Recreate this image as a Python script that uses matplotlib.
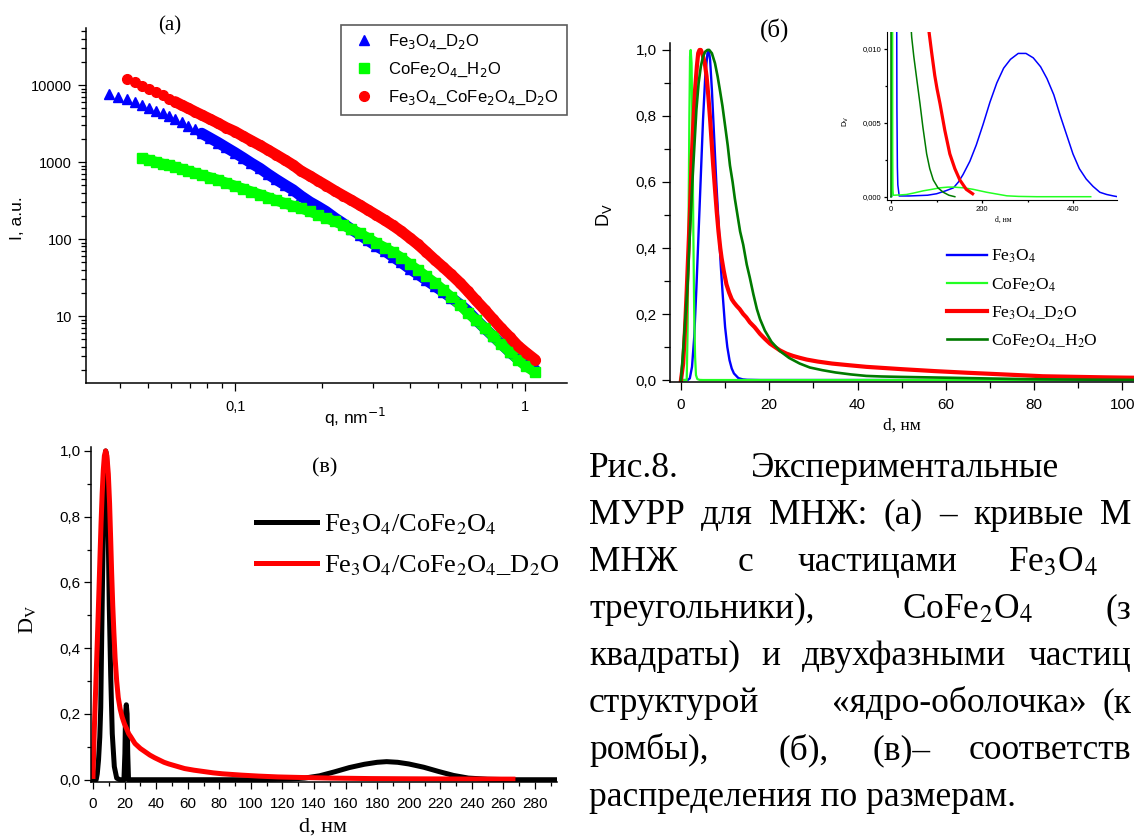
import matplotlib
matplotlib.use("Agg")
import matplotlib.pyplot as plt
import numpy as np
from matplotlib.ticker import FuncFormatter, MultipleLocator, LogLocator, NullFormatter

# ---------------- panel (a): SANS curves, I(q) ----------------
q_a = [0.0368, 0.0396, 0.0424, 0.0452, 0.0479, 0.0506, 0.0534, 0.0562, 0.0592, 0.0621,
       0.0655, 0.069, 0.0727, 0.0767, 0.082, 0.0874, 0.0931, 0.1, 0.1066, 0.1135,
       0.122, 0.13, 0.1384, 0.1487, 0.1585, 0.1689, 0.1814, 0.1932, 0.206, 0.2213,
       0.2357, 0.2512, 0.27, 0.2874, 0.3063, 0.329, 0.3506, 0.3736, 0.4012, 0.4276,
       0.4556, 0.4895, 0.5214, 0.5556, 0.5969, 0.636, 0.6777, 0.7278, 0.776, 0.8265,
       0.888, 0.946, 1.008, 1.083]
# Fe3O4_D2O starts at q_a[0]
I_fe3o4_d2o = [7570, 7050, 6520, 5960, 5450, 4980, 4590, 4290, 3960, 3620,
               3280, 2960, 2660, 2360, 2050, 1790, 1550, 1320, 1135, 973,
               826, 697, 596, 503, 435, 362, 302, 264, 228, 187,
               160, 135, 113, 96, 82, 70, 59, 50, 41, 35,
               29.5, 24.5, 20.8, 17.4, 14.2, 11.6, 9.0, 6.9, 5.5, 4.4,
               3.4, 2.77, 2.34, 2.02]
# CoFe2O4_H2O starts at q_a[4]
I_cofe2o4_h2o = [1117, 1055, 1000, 948, 908, 861, 811, 764, 719, 678,
                 629, 584, 537, 488, 450, 414, 378, 346, 318, 291,
                 268, 251, 228, 208, 188, 169, 152, 135, 118, 103,
                 89, 77, 67, 57.5, 46.7, 39.4, 32.9, 26.8, 22, 17.6,
                 14, 11, 8.9, 6.9, 5.5, 4.3, 3.4, 2.72, 2.24, 1.87]
# Fe3O4_CoFe2O4_D2O starts at q_a[2]
I_core_shell_d2o = [11900, 10850, 9800, 8800, 8040, 7350, 6640, 6070, 5470, 4980,
                    4500, 4080, 3600, 3190, 2800, 2480, 2160, 1900, 1640, 1430,
                    1245, 1060, 914, 764, 658, 570, 495, 420, 367, 321,
                    274, 238, 206, 175, 150, 127, 103, 85, 68.6, 53.4,
                    43.4, 34.9, 27, 20.9, 16, 12, 9.1, 7.0, 5.3, 4.1,
                    3.36, 2.72]
labels_a = ["Fe$_3$O$_4$_D$_2$O", "CoFe$_2$O$_4$_H$_2$O",
            "Fe$_3$O$_4$_CoFe$_2$O$_4$_D$_2$O"]
yticks_a = [10, 100, 1000, 10000]
xticks_a = [0.1, 1]
xticklabels_a = ["0,1", "1"]

# ---------------- panel (б): size distributions ----------------
d_fe3o4 = [0, 1.5, 2.0, 2.5, 3.0, 3.5, 4.0, 4.5, 5.0, 5.5, 6.0, 6.3, 6.6, 7.0, 7.5, 8.0,
           8.5, 9.0, 9.5, 10.0, 10.5, 11.0, 11.5, 12.0, 13.0, 14.0, 15.0, 18, 40, 80,
           100, 120, 137, 148, 158, 173, 187, 202, 217, 232, 247, 262, 279, 296, 312,
           328, 342, 357, 371, 385, 399, 413, 428, 443, 458, 473, 488, 497]
dv_fe3o4 = [0, 0, 0.005, 0.04, 0.13, 0.28, 0.45, 0.62, 0.79, 0.92, 0.99, 1.0, 0.97, 0.88,
            0.74, 0.6, 0.48, 0.35, 0.25, 0.16, 0.1, 0.06, 0.035, 0.02, 0.006, 0.002,
            0.0008, 0.00005, 0.00005, 0.0001, 0.0002, 0.0004, 0.0006, 0.001, 0.0015,
            0.0024, 0.0035, 0.0049, 0.0064, 0.0077, 0.0087, 0.0093, 0.0097, 0.0097,
            0.0094, 0.0088, 0.008, 0.0069, 0.0055, 0.0042, 0.0029, 0.0019, 0.0012,
            0.0007, 0.0003, 0.00015, 0.00005, 0.0]
d_cofe2o4 = [0, 1.3, 1.5, 1.7, 1.9, 2.05, 2.2, 2.4, 2.6, 2.8, 3.0, 3.2, 3.4, 3.7, 4.2,
             5.0, 20, 34, 50, 71, 90, 107, 125, 137, 160, 180, 195, 210, 232, 254,
             280, 320, 380, 438]
dv_cofe2o4 = [0, 0, 0.15, 0.45, 0.8, 0.98, 1.0, 0.96, 0.75, 0.45, 0.2, 0.07, 0.015,
              0.003, 0.0005, 0.0001, 0.00012, 0.00015, 0.00025, 0.0004, 0.0005,
              0.0006, 0.00065, 0.00065, 0.0006, 0.0005, 0.0004, 0.0003, 0.00018,
              0.00006, 0.00002, 0, 0, 0]
d_fe3o4_d2o = [0, 0.5, 0.9, 1.3, 1.7, 2.0, 2.4, 2.8, 3.2, 3.6, 3.9, 4.2, 4.5, 4.8, 5.1,
               5.4, 5.8, 6.2, 6.6, 6.9, 7.3, 7.7, 8.1, 8.5, 8.9, 9.2, 9.7, 10.3, 10.9,
               11.5, 12.0, 12.6, 13.3, 14.1, 14.8, 15.6, 16.7, 17.9, 19.0, 20.2, 21.3,
               22.4, 23.9, 25.4, 27.0, 28.5, 31.0, 34.2, 38, 42, 50, 57.6, 65, 73.2,
               82, 89, 96, 101, 107.5, 118, 129, 140, 151, 165, 179]
dv_fe3o4_d2o = [0, 0.05, 0.15, 0.27, 0.40, 0.5, 0.66, 0.78, 0.88, 0.95, 0.99, 1.0, 1.0,
                0.99, 0.975, 0.96, 0.92, 0.86, 0.79, 0.73, 0.65, 0.58, 0.51, 0.45,
                0.40, 0.37, 0.33, 0.29, 0.265, 0.245, 0.235, 0.225, 0.215, 0.20, 0.19,
                0.175, 0.16, 0.14, 0.125, 0.11, 0.1, 0.09, 0.08, 0.073, 0.067, 0.062,
                0.056, 0.05, 0.045, 0.04, 0.033, 0.027, 0.022, 0.017, 0.0115, 0.0098,
                0.0082, 0.0073, 0.0063, 0.0045, 0.0029, 0.0019, 0.00113, 0.0005, 0.0002]
d_cofe2o4_h2o = [0, 0.5, 1.0, 1.5, 2.0, 2.5, 3.0, 3.5, 4.0, 4.5, 5.0, 5.5, 6.0, 6.4, 7.0,
                 7.7, 8.3, 8.8, 9.4, 10.0, 10.6, 11.1, 11.7, 12.2, 12.8, 13.4, 14.1,
                 14.9, 15.6, 16.4, 17.2, 17.9, 19.0, 20.5, 22.4, 24.5, 26.9, 29.2, 32,
                 35, 38.5, 42, 45.4, 50, 57.6, 63.6, 70, 78.2, 85, 92.8, 103, 114.7,
                 127, 140]
dv_cofe2o4_h2o = [0, 0.09, 0.19, 0.29, 0.44, 0.58, 0.70, 0.82, 0.9, 0.95, 0.98, 0.995,
                  1.0, 1.0, 0.99, 0.96, 0.92, 0.88, 0.83, 0.77, 0.71, 0.65, 0.6, 0.55,
                  0.5, 0.45, 0.41, 0.35, 0.31, 0.26, 0.215, 0.185, 0.15, 0.116, 0.088,
                  0.067, 0.05, 0.038, 0.03, 0.023, 0.017, 0.0125, 0.0108, 0.0095,
                  0.0077, 0.0063, 0.0047, 0.0029, 0.0019, 0.00113, 0.0006, 0.0003,
                  0.0001, 0.0]
labels_b = ["Fe$_3$O$_4$", "CoFe$_2$O$_4$", "Fe$_3$O$_4$_D$_2$O", "CoFe$_2$O$_4$_H$_2$O"]
# the inset shows the Fe3O4_D2O curve only from this index on (d >= 73 nm)
inset_from_fe3o4_d2o = 53

# ---------------- panel (в): core-shell distributions ----------------
d_core = [0, 2.0, 2.7, 3.5, 4.3, 4.9, 5.5, 6.1, 6.8, 7.6, 8.0, 8.5, 9.1, 9.7, 10.3, 11.2,
          12.2, 13.5, 15.0, 17.0, 19.6, 20.2, 20.6, 21.1, 21.6, 22.0, 22.5, 25, 60, 100,
          124.8, 134, 143.6, 153, 162.4, 171.9, 180, 186, 193, 200, 209.5, 219, 228.4,
          237.8, 250, 265, 293]
dv_core = [0, 0, 0.018, 0.06, 0.13, 0.22, 0.43, 0.63, 0.83, 0.97, 1.0, 0.99, 0.93, 0.73,
           0.53, 0.32, 0.14, 0.04, 0.005, 0, 0, 0.08, 0.2, 0.228, 0.2, 0.08, 0, 0, 0, 0,
           0.002, 0.005, 0.012, 0.024, 0.037, 0.047, 0.053, 0.055, 0.053, 0.048, 0.038,
           0.025, 0.013, 0.005, 0.0015, 0, 0]
d_core_d2o = [0, 0.8, 1.5, 2.3, 3.0, 3.8, 4.5, 5.1, 5.8, 6.5, 7.2, 8.0, 8.8, 9.7, 10.5,
              11.2, 11.8, 12.5, 13.2, 14.0, 15.0, 16.0, 17.2, 18.5, 19.9, 21.3, 22.6,
              24.0, 26.6, 30, 33, 36, 39, 42, 45, 48, 53, 58, 64, 70, 76, 82, 94, 105,
              117, 130, 150, 176, 200, 230, 266]
dv_core_d2o = [0.01, 0.15, 0.25, 0.36, 0.46, 0.58, 0.69, 0.78, 0.87, 0.94, 0.985, 1.0,
               0.985, 0.93, 0.84, 0.73, 0.63, 0.53, 0.45, 0.37, 0.30, 0.25, 0.215, 0.19,
               0.17, 0.155, 0.14, 0.13, 0.11, 0.095, 0.085, 0.075, 0.067, 0.06, 0.053,
               0.048, 0.041, 0.034, 0.029, 0.025, 0.021, 0.018, 0.014, 0.011, 0.0085,
               0.007, 0.005, 0.0035, 0.0028, 0.0022, 0.0018]
labels_c = ["Fe$_3$O$_4$/CoFe$_2$O$_4$", "Fe$_3$O$_4$/CoFe$_2$O$_4$_D$_2$O"]

# ---------------------------------------------------------------
W, H = 1134, 836
SANS = "Liberation Sans"
SERIF = "Liberation Serif"
CAPTION_SIZE = 25.5
plt.rcParams["font.family"] = SANS


def rect(left, top, right, bottom):
    return [left / W, 1 - bottom / H, (right - left) / W, (bottom - top) / H]


def fxy(x, y):
    return x / W, 1 - y / H


def comma(fmt):
    return FuncFormatter(lambda v, p: format(v, fmt).replace(".", ","))


def style_axes(ax, size, major=6, minor=3.5, pad=3):
    for s in ("top", "right"):
        ax.spines[s].set_visible(False)
    for s in ("left", "bottom"):
        ax.spines[s].set_linewidth(1.1)
    ax.tick_params(which="both", direction="out", width=0.9, labelsize=size, pad=pad)
    ax.tick_params(which="major", length=major)
    ax.tick_params(which="minor", length=minor)


fig = plt.figure(figsize=(W / 100, H / 100), dpi=100)

# ---- (a)
ax_a = fig.add_axes(rect(86, 28, 567, 383))
ax_a.set_xscale("log")
ax_a.set_yscale("log")
ax_a.plot(q_a[13:], I_fe3o4_d2o[13:], "-", color="#0000ff", lw=8, solid_capstyle="round")
ax_a.plot(q_a[4:], I_cofe2o4_h2o, "-", color="#00ff00", lw=7.5, solid_capstyle="butt")
ax_a.plot(q_a[9:], I_core_shell_d2o[7:], "-", color="#ff0000", lw=8, solid_capstyle="round")
h1, = ax_a.plot(q_a, I_fe3o4_d2o, "^", color="#0000ff", ms=7.5, ls="none", label=labels_a[0])
h2, = ax_a.plot(q_a[4:], I_cofe2o4_h2o, "s", color="#00ff00", ms=6.5, ls="none", label=labels_a[1])
h3, = ax_a.plot(q_a[2:], I_core_shell_d2o, "o", color="#ff0000", ms=7, ls="none", label=labels_a[2])
ax_a.set_xlim(0.0306, 1.397)
ax_a.set_ylim(1.35, 55000)
ax_a.set_yticks(yticks_a)
ax_a.yaxis.set_major_formatter(FuncFormatter(lambda v, p: f"{v:.0f}"))
ax_a.yaxis.set_minor_locator(LogLocator(base=10, subs=np.arange(2, 10), numticks=12))
ax_a.yaxis.set_minor_formatter(NullFormatter())
ax_a.set_xticks(xticks_a)
ax_a.set_xticklabels(xticklabels_a)
ax_a.xaxis.set_minor_locator(LogLocator(base=10, subs=np.arange(2, 10), numticks=12))
ax_a.xaxis.set_minor_formatter(NullFormatter())
style_axes(ax_a, 10.5, major=6, minor=3.5, pad=4)
ax_a.tick_params(axis="x", pad=6)
ax_a.set_ylabel("I, a.u.", fontsize=12.5)
ax_a.yaxis.set_label_coords(*fxy(25, 218), transform=fig.transFigure)
ax_a.set_xlabel("q, nm$^{-1}$", fontsize=12.5, math_fontfamily="dejavusans")
ax_a.xaxis.set_label_coords(*fxy(355, 406), transform=fig.transFigure)
leg_a = ax_a.legend(handles=[h1, h2, h3], loc="upper left",
                    bbox_to_anchor=fxy(341, 25), bbox_transform=fig.transFigure,
                    borderaxespad=0, borderpad=0.45, handlelength=1.9,
                    handletextpad=0.5, labelspacing=0.6, fancybox=False,
                    prop={"family": SANS, "size": 12, "math_fontfamily": "dejavusans"})
leg_a.get_frame().set_edgecolor("#333333")
leg_a.get_frame().set_linewidth(1.2)
fig.text(*fxy(170, 26), "(a)", family=SERIF, fontsize=15, ha="center", va="center")

# ---- (б)
ax_b = fig.add_axes(rect(669.5, 42.7, 1140, 381.7))
colors_b = ["#0000ff", "#22ff22", "#ff0000", "#007a00"]
widths_b = [1.7, 1.6, 3.0, 1.9]
series_b = [(d_fe3o4, dv_fe3o4), (d_cofe2o4, dv_cofe2o4),
            (d_fe3o4_d2o, dv_fe3o4_d2o), (d_cofe2o4_h2o, dv_cofe2o4_h2o)]
for (dx, dy), c, lw, lab in zip(series_b, colors_b, widths_b, labels_b):
    ax_b.plot(dx, dy, color=c, lw=lw, label=lab)
ax_b.set_xlim(-2.6, 104)
ax_b.set_ylim(-0.005, 1.022)
ax_b.xaxis.set_major_locator(MultipleLocator(20))
ax_b.xaxis.set_minor_locator(MultipleLocator(10))
ax_b.yaxis.set_major_locator(MultipleLocator(0.2))
ax_b.yaxis.set_minor_locator(MultipleLocator(0.1))
ax_b.yaxis.set_major_formatter(comma(".1f"))
ax_b.xaxis.set_major_formatter(comma(".0f"))
style_axes(ax_b, 11, major=6, minor=4, pad=3)
ax_b.tick_params(axis="x", pad=6)
ax_b.set_ylabel("D$_\\mathrm{V}$", fontsize=13, math_fontfamily="dejavusans")
ax_b.yaxis.set_label_coords(*fxy(614, 215), transform=fig.transFigure)
ax_b.set_xlabel("d, нм", family=SERIF, fontsize=12.5)
ax_b.xaxis.set_label_coords(*fxy(902, 418), transform=fig.transFigure)
ax_b.legend(loc="upper left", bbox_to_anchor=fxy(947, 248), bbox_transform=fig.transFigure,
            borderaxespad=0, borderpad=0, frameon=False, handlelength=2.3,
            handletextpad=0.25, labelspacing=0.62,
            prop={"family": SERIF, "size": 12.5, "math_fontfamily": "stix"})
fig.text(*fxy(775, 30), "(б)", family=SERIF, fontsize=18, ha="center", va="center")

# inset of (б)
ax_in = fig.add_axes(rect(886.7, 32.3, 1117, 200))
ax_in.set_facecolor("none")
widths_in = [1.1, 1.1, 2.3, 1.1]
starts_in = [0, 0, inset_from_fe3o4_d2o, 0]
for (dx, dy), c, lw, k in zip(series_b, colors_b, widths_in, starts_in):
    ax_in.plot(dx[k:], dy[k:], color=c, lw=lw)
ax_in.set_xlim(-9.4, 495.6)
ax_in.set_ylim(-0.000223, 0.01113)
ax_in.xaxis.set_major_locator(MultipleLocator(200))
ax_in.xaxis.set_minor_locator(MultipleLocator(100))
ax_in.yaxis.set_major_locator(MultipleLocator(0.005))
ax_in.yaxis.set_minor_locator(MultipleLocator(0.0025))
ax_in.yaxis.set_major_formatter(comma(".3f"))
ax_in.xaxis.set_major_formatter(comma(".0f"))
style_axes(ax_in, 5.5, major=2.5, minor=1.5, pad=1.5)
for s in ("left", "bottom"):
    ax_in.spines[s].set_linewidth(0.8)
ax_in.set_ylabel("D$_\\mathrm{V}$", fontsize=5.5, math_fontfamily="dejavusans")
ax_in.yaxis.set_label_coords(*fxy(851, 121), transform=fig.transFigure)
ax_in.set_xlabel("d, нм", family=SERIF, fontsize=5.5)
ax_in.xaxis.set_label_coords(*fxy(1003, 216), transform=fig.transFigure)

# ---- (в)
ax_c = fig.add_axes(rect(91, 447.3, 556.5, 781.7))
ax_c.plot(d_core, dv_core, color="black", lw=3.6, label=labels_c[0])
ax_c.plot(d_core_d2o, dv_core_d2o, color="#ff0000", lw=3.6, label=labels_c[1])
ax_c.set_xlim(-1.27, 293.6)
ax_c.set_ylim(-0.006, 1.011)
ax_c.xaxis.set_major_locator(MultipleLocator(20))
ax_c.xaxis.set_minor_locator(MultipleLocator(10))
ax_c.yaxis.set_major_locator(MultipleLocator(0.2))
ax_c.yaxis.set_minor_locator(MultipleLocator(0.1))
ax_c.yaxis.set_major_formatter(comma(".1f"))
ax_c.xaxis.set_major_formatter(comma(".0f"))
style_axes(ax_c, 11, major=5, minor=3, pad=2.5)
ax_c.tick_params(axis="x", pad=6)
ax_c.set_ylabel("D$_\\mathrm{V}$", family=SERIF, fontsize=16, math_fontfamily="stix")
ax_c.yaxis.set_label_coords(*fxy(38, 619), transform=fig.transFigure)
ax_c.set_xlabel("d, нм", family=SERIF, fontsize=16)
ax_c.xaxis.set_label_coords(*fxy(323, 818), transform=fig.transFigure)
ax_c.legend(loc="upper left", bbox_to_anchor=fxy(256, 512), bbox_transform=fig.transFigure,
            borderaxespad=0, borderpad=0, frameon=False, handlelength=2.3,
            handletextpad=0.27, labelspacing=0.62,
            prop={"family": SERIF, "size": 19, "math_fontfamily": "stix"})
fig.text(*fxy(325, 468), "(в)", family=SERIF, fontsize=16, ha="center", va="center")

# ---- caption: justified lines of the page, cut at the right edge as in the scan
renderer = fig.canvas.get_renderer()


def caption_text(x, baseline, word):
    return fig.text(*fxy(x, baseline), word, family=SERIF, fontsize=CAPTION_SIZE,
                    va="baseline", math_fontfamily="stix")


def caption_line(words, baseline, x_first=None, right=None):
    """words: list of (text, x); or plain strings spread from x_first so the
    last word ends at `right`. A (text, None) entry is right-aligned to 1131."""
    if x_first is None:
        for word, x in words:
            t = caption_text(0, baseline, word)
            if x is None:
                x = 1131 - t.get_window_extent(renderer).width
            t.set_x(x / W)
        return
    texts = [caption_text(0, baseline, w) for w in words]
    widths = [t.get_window_extent(renderer).width for t in texts]
    gap = (right - x_first - sum(widths)) / (len(words) - 1)
    x = x_first
    for t, w in zip(texts, widths):
        t.set_x(x / W)
        x += w + gap


base0, step = 476.7, 47.1
caption_line([("Рис.8.", 589), ("Экспериментальные", 751)], base0)
caption_line(["МУРР", "для", "МНЖ:", "(а)", "–", "кривые", "М"], base0 + step, 589, 1131)
caption_line([("МНЖ", 589), ("с", 738), ("частицами", 798), ("Fe$_3$O$_4$", 1008)], base0 + 2 * step)
caption_line([("треугольники),", 589), ("CoFe$_2$O$_4$", 902), ("(з", None)], base0 + 3 * step)
caption_line(["квадраты)", "и", "двухфазными", "частиц"], base0 + 4 * step, 589, 1131)
caption_line([("структурой", 589), ("«ядро-оболочка»", 832), ("(к", None)], base0 + 5 * step)
caption_line([("ромбы),", 589), ("(б),", 778), ("(в)–", 872), ("соответств", None)], base0 + 6 * step)
caption_line([("распределения по размерам.", 589)], base0 + 7 * step)

fig.savefig("out.png", dpi=100)
